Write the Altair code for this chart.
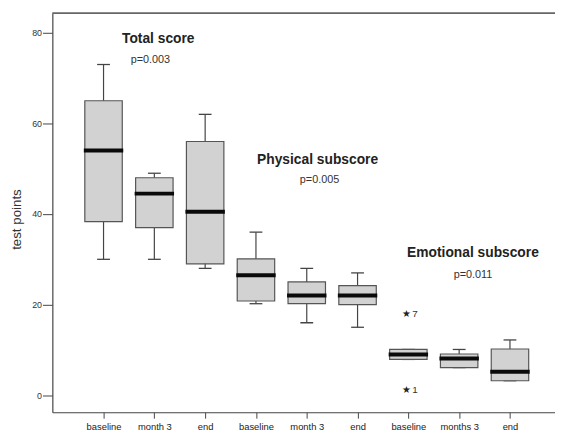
import altair as alt
import pandas as pd

groups = ["Total", "Total", "Total", "Physical", "Physical", "Physical",
          "Emotional", "Emotional", "Emotional"]
times = ["baseline", "month 3", "end", "baseline", "month 3", "end",
         "baseline", "months 3", "end"]
lower = [30, 30, 28, 20.2, 16, 15, 7.9, 6.1, 3.2]
q1 = [38.3, 37, 29, 20.8, 20.2, 20, 7.9, 6.1, 3.2]
median = [54, 44.5, 40.5, 26.5, 22, 22, 9, 8.1, 5.2]
q3 = [65, 48, 56, 30.1, 25, 24.2, 10.1, 9.1, 10.2]
upper = [73, 49, 62, 36, 28, 27, 10.1, 10.1, 12.2]

outlier_key = ["Emotional|baseline", "Emotional|baseline"]
outlier_val = [18, 1.2]
outlier_lab = ["7", "1"]

ann_key = ["Total|month 3", "Total|month 3", "Physical|month 3", "Physical|month 3",
           "Emotional|months 3", "Emotional|months 3"]
ann_text = ["Total score", "p=0.003", "Physical subscore", "p=0.005",
            "Emotional subscore", "p=0.011"]
ann_y = [78.7, 74.0, 51.9, 47.6, 31.3, 26.5]
ann_bold = [True, False, True, False, True, False]
ann_dx = [4, -4, 11, 13, 14, 14]

keys = [f"{g}|{t}" for g, t in zip(groups, times)]
df = pd.DataFrame({"key": keys, "lower": lower, "q1": q1, "median": median,
                   "q3": q3, "upper": upper})
odf = pd.DataFrame({"key": outlier_key, "v": outlier_val, "lab": outlier_lab})

FONT = "Liberation Sans"
W, H = 510, 405

xscale = alt.Scale(type="point", domain=keys, padding=0.947, align=0.532)
yscale = alt.Scale(domain=[-3.76, 84.35], nice=False, zero=False)

xenc = alt.X("key:N", scale=xscale, sort=keys, title=None,
             axis=alt.Axis(labelExpr="split(datum.value, '|')[1]", labelAngle=0,
                           labelFont=FONT, labelFontSize=9.5, labelColor="#222",
                           tickSize=6, tickColor="#444", domainColor="#444",
                           labelPadding=4, grid=False, domainWidth=1.2))
yaxis = alt.Axis(values=[0, 20, 40, 60, 80], labelFont=FONT, labelFontSize=9,
                 labelColor="#333", tickSize=10, tickColor="#444", domainColor="#444",
                 labelPadding=1, grid=False, title="test points", titleFont=FONT,
                 titleFontSize=13.5, titleFontWeight="normal", titleColor="#333",
                 titleAngle=270, titleX=-36, titleY=209, titleAlign="center",
                 titleBaseline="middle", domainWidth=1.2)

base = alt.Chart(df)

whisk = base.mark_rule(color="#444", strokeWidth=1.2).encode(
    x=xenc, y=alt.Y("lower:Q", scale=yscale, axis=yaxis), y2="upper:Q")
cap_lo = base.mark_tick(color="#444", size=13, thickness=1.3, opacity=1).encode(
    x="key:N", y="lower:Q")
cap_hi = base.mark_tick(color="#444", size=13, thickness=1.3, opacity=1).encode(
    x="key:N", y="upper:Q")
box = base.mark_bar(size=38, color="#d2d2d2", stroke="#555", strokeWidth=1.2,
                    opacity=1).encode(x="key:N", y="q1:Q", y2="q3:Q")
med = base.mark_tick(color="#0a0a0a", size=40, thickness=4, opacity=1).encode(
    x="key:N", y="median:Q")

ob = alt.Chart(odf)
star = ob.mark_text(text="★", font="DejaVu Sans", fontSize=10, color="#222",
                    dx=-2).encode(x="key:N", y="v:Q")
olab = ob.mark_text(font=FONT, fontSize=10, color="#333", align="left",
                    dx=4).encode(x="key:N", y="v:Q", text="lab:N")

frame_top = alt.Chart(pd.DataFrame({"a": [0]})).mark_rule(
    color="#666", strokeWidth=1.6).encode(
    x=alt.value(0), x2=alt.value(W), y=alt.value(0))

layers = [frame_top, whisk, cap_lo, cap_hi, box, med, star, olab]
for k, t, yv, b, dx in zip(ann_key, ann_text, ann_y, ann_bold, ann_dx):
    adf = pd.DataFrame({"key": [k], "v": [yv], "t": [t]})
    layers.append(alt.Chart(adf).mark_text(
        font=FONT, fontSize=14 if b else 11, fontWeight="bold" if b else "normal",
        color="#222" if b else "#333", dx=dx, baseline="middle").encode(
        x="key:N", y="v:Q", text="t:N"))

chart = alt.layer(*layers).properties(
    width=W, height=H,
    autosize=alt.AutoSizeParams(type="none"),
    padding={"left": 45, "top": 2, "right": 0, "bottom": 26},
    background="white",
).configure_view(stroke="transparent")

chart.save("out.html", embed_options={"renderer": "svg", "actions": False})
